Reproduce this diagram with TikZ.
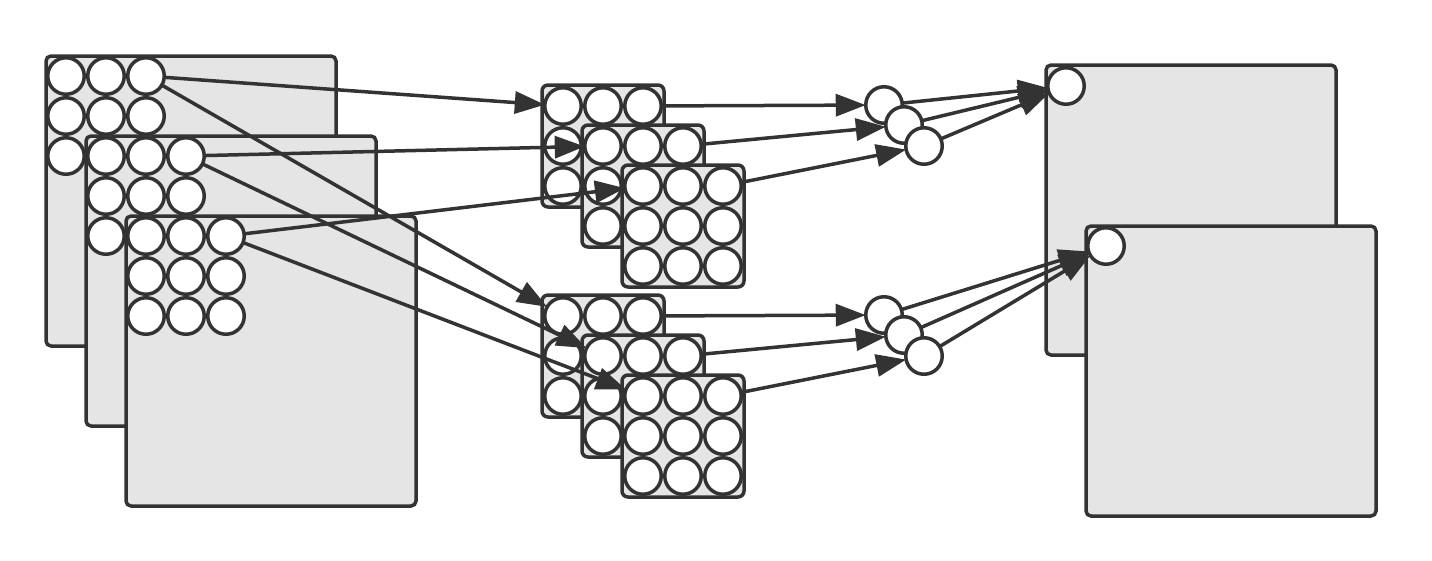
\documentclass[tikz,border=0pt]{standalone}
\usetikzlibrary{arrows.meta}
\definecolor{ink}{HTML}{333333}
\definecolor{panel}{HTML}{E5E5E5}
\tikzset{
  unit/.style={circle,draw=ink,fill=white,line width=3.5pt,minimum size=36.5pt,inner sep=0pt,outer sep=0pt},
  bigmap/.style={draw=ink,fill=panel,line width=3.5pt,rounded corners=5pt,minimum width=290pt,minimum height=290pt,inner sep=0pt,outer sep=0pt},
  smallmap/.style={draw=ink,fill=panel,line width=3.5pt,rounded corners=6pt,minimum width=122pt,minimum height=122pt,inner sep=0pt,outer sep=0pt},
  conn/.style={draw=ink,line width=3.5pt,-{Triangle[length=30pt,width=22pt]}},
}
\begin{document}
\begin{tikzpicture}[x=1pt,y=-1pt]
\useasboundingbox (0,0) rectangle (1432,560);
% left input maps
\foreach \k/\bx/\by in {1/46/56,2/86/136,3/126/216}{
  \node[bigmap] (in\k) at (\bx+145,\by+145) {};
  \foreach \i in {1,2,3}{\foreach \j in {1,2,3}{
    \node[unit] (in\k-\j-\i) at (\bx+20+40*\i-40,\by+20+40*\j-40) {};
  }}
}
% middle maps, two groups
\foreach \g/\gy in {a/0,b/210}{
  \foreach \k/\bx/\by in {1/542/85,2/582/125,3/622/165}{
    \node[smallmap] (m\g\k) at (\bx+61,\by+\gy+61) {};
    \foreach \i in {1,2,3}{\foreach \j in {1,2,3}{
      \node[unit] (m\g\k-\j-\i) at (\bx+21+40*\i-40,\by+\gy+21+40*\j-40) {};
    }}
  }
  \node[unit] (s\g1) at (884,105+\gy) {};
  \node[unit] (s\g2) at (904,125+\gy) {};
  \node[unit] (s\g3) at (924,146+\gy) {};
}
% right output maps
\node[bigmap] (outa) at (1046+145,65+145) {};
\node[unit] (oa) at (1066,86) {};
\node[bigmap] (outb) at (1086+145,226+145) {};
\node[unit] (ob) at (1106,246) {};
% connectors
\foreach \g in {a,b}{
  \draw[conn] (in1-1-3) -- (m\g1-1-1);
  \draw[conn] (in2-1-3) -- (m\g2-1-1);
  \draw[conn] (in3-1-3) -- (m\g3-1-1);
  \draw[conn] (m\g1-1-3) -- (s\g1);
  \draw[conn] (m\g2-1-3) -- (s\g2);
  \draw[conn] (m\g3-1-3) -- (s\g3);
  \foreach \n in {1,2,3}{\draw[conn] (s\g\n) -- (o\g);}
}
\end{tikzpicture}
\end{document}
